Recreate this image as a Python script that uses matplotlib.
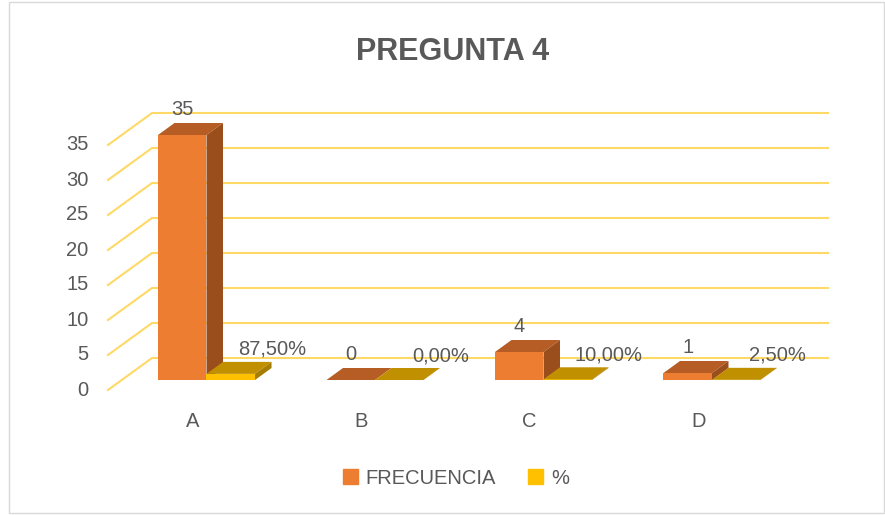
import matplotlib
matplotlib.use("Agg")
import matplotlib.pyplot as plt
from matplotlib.patches import Patch, Rectangle

categories = ["A", "B", "C", "D"]
frecuencia = [35, 0, 4, 1]
porcentaje = [0.875, 0.0, 0.10, 0.025]
pct_labels = ["87,50%", "0,00%", "10,00%", "2,50%"]
yticks = [0, 5, 10, 15, 20, 25, 30, 35]

# 3D projection constants (data units): full wall depth shift
DX, DY = 44 / 168.5, 32 / 7
D0, D1 = 0.3125, 0.6875     # bar front / back depth fraction
BW = 0.288                  # bar width
TXT = "#595959"
GRID = "#FFD966"
FS = 14.5

plt.rcParams["font.family"] = ["Liberation Sans", "DejaVu Sans"]

fig = plt.figure(figsize=(8.85, 5.15), dpi=100)
ax = fig.add_axes([0, 0, 1, 1])
ax.set_xlim(-192.75 / 168.5, (885 - 192.75) / 168.5)
ax.set_ylim((390 - 515) / 7, 390 / 7)
ax.axis("off")


def pt(x, v, d):
    return x + d * DX, v + d * DY


def box(x0, h, front, top, side, z):
    x1 = x0 + BW
    f = [pt(x0, 0, D0), pt(x1, 0, D0), pt(x1, h, D0), pt(x0, h, D0)]
    t = [pt(x0, h, D0), pt(x1, h, D0), pt(x1, h, D1), pt(x0, h, D1)]
    s = [pt(x1, 0, D0), pt(x1, 0, D1), pt(x1, h, D1), pt(x1, h, D0)]
    for poly, c in [(f, front), (t, top), (s, side)]:
        xs, ys = zip(*poly)
        ax.fill(xs, ys, color=c, lw=0, zorder=z)


# walls / gridlines
xl, xr = -0.503, 3.509
for v in yticks:
    a, b = pt(xl, v, 0), pt(xl, v, 1)
    c = pt(xr, v, 1)
    ax.plot([a[0], b[0], c[0]], [a[1], b[1], c[1]], color=GRID, lw=1.5, zorder=1)
    ax.text(-0.618, v, str(v), ha="right", va="center", fontsize=FS, color=TXT)

for i, cat in enumerate(categories):
    box(i - BW, frecuencia[i], "#ED7D31", "#B65D25", "#9A4E1C", 3 + 2 * i)
    box(i, porcentaje[i], "#FFC000", "#C09000", "#A67D00", 4 + 2 * i)
    lx, ly = pt(i - BW / 2, frecuencia[i], D0)
    ax.text(lx, ly + 3.6, str(frecuencia[i]), ha="center", va="center",
            fontsize=FS, color=TXT, zorder=20)
    px, py = pt(i + BW / 2, porcentaje[i], D0)
    ax.text(px + 41 / 168.5, py + 3.5, pct_labels[i], ha="center", va="center",
            fontsize=FS, color=TXT, zorder=20)
    ax.text(i, -4.43, cat, ha="center", va="center", fontsize=FS, color=TXT)

ax.text(1.539, 48.29, "PREGUNTA 4", ha="center", va="center", fontsize=22,
        fontweight="bold", color=TXT)

handles = [Patch(color="#ED7D31", label="FRECUENCIA"), Patch(color="#FFC000", label="%")]
fig.legend(handles=handles, loc="center", bbox_to_anchor=(456 / 885, 1 - 478 / 515),
           ncol=2, frameon=False, fontsize=FS, labelcolor=TXT,
           handlelength=0.75, handleheight=0.75, handletextpad=0.4, columnspacing=1.6)

fig.patches.append(Rectangle((9 / 885, 2 / 515), 875 / 885, 511 / 515,
                             transform=fig.transFigure, fill=False,
                             edgecolor="#D9D9D9", lw=1))

fig.savefig("out.png", dpi=100)
